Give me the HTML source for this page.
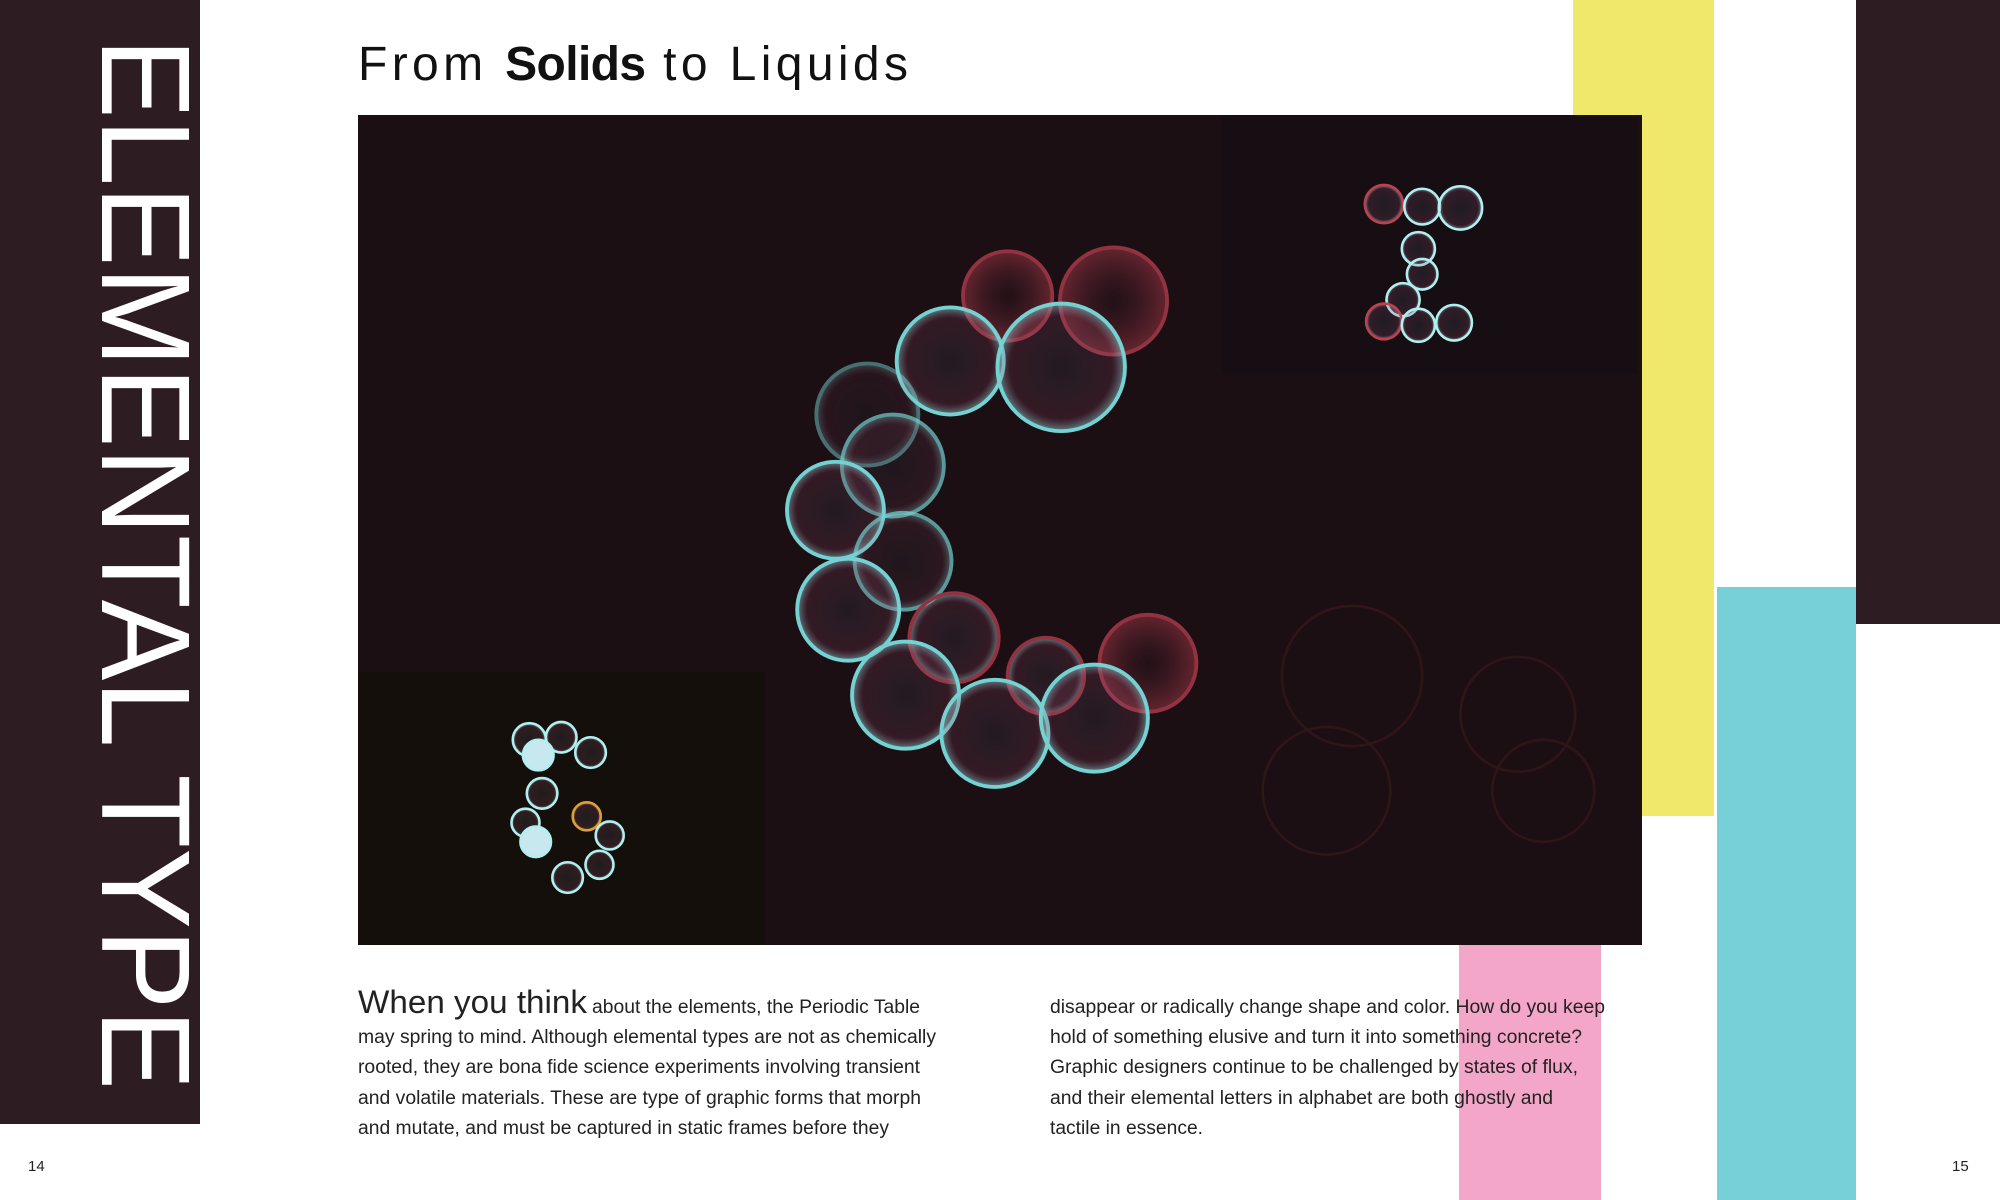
<!DOCTYPE html>
<html><head><meta charset="utf-8"><style>
html,body{margin:0;padding:0;background:#fff;}
svg{display:block;}
text{font-family:"Liberation Sans",sans-serif;}
</style></head><body>
<svg width="2000" height="1200" viewBox="0 0 2000 1200" xmlns="http://www.w3.org/2000/svg">
<defs>
<radialGradient id="bub" cx="50%" cy="50%" r="50%">
<stop offset="0%" stop-color="#6a7a9a" stop-opacity="0.12"/>
<stop offset="80%" stop-color="#a05070" stop-opacity="0.2"/>
<stop offset="100%" stop-color="#90e8e8" stop-opacity="0.6"/>
</radialGradient>
<radialGradient id="bubR" cx="50%" cy="50%" r="50%">
<stop offset="0%" stop-color="#502030" stop-opacity="0.15"/>
<stop offset="100%" stop-color="#c04050" stop-opacity="0.5"/>
</radialGradient>
</defs>
<rect x="0" y="0" width="2000" height="1200" fill="#fff"/>
<rect x="1573" y="0" width="141" height="816" fill="#efe86a"/>
<rect x="1856" y="0" width="144" height="624" fill="#2d1d22"/>
<rect x="1717" y="587" width="139" height="613" fill="#77cfd8"/>
<rect x="1459" y="945" width="142" height="255" fill="#f4a6c9"/>
<rect x="0" y="0" width="200" height="1124" fill="#2d1d22"/>
<text transform="translate(102,38) rotate(90)" x="0" y="0" font-size="126" fill="#fff" textLength="1052" lengthAdjust="spacingAndGlyphs" style="font-weight:300">ELEMENTAL TYPE</text>
<text x="358" y="80" font-size="48" fill="#111" textLength="555" lengthAdjust="spacing" letter-spacing="5">From <tspan font-weight="bold" letter-spacing="0">Solids</tspan> to Liquids</text>

<g>
<rect x="358" y="115" width="1284" height="830" fill="#1c0f14"/>
<rect x="358" y="672" width="407" height="273" fill="#150f0b"/>
<rect x="1221" y="115" width="416" height="259" fill="#160e13"/>
<g transform="scale(1.2755)">
<g fill="none" stroke="#6a2a20" stroke-width="2" opacity="0.25">
<circle cx="1060" cy="530" r="55"/><circle cx="1190" cy="560" r="45"/><circle cx="1040" cy="620" r="50"/><circle cx="1210" cy="620" r="40"/>
</g>
<g stroke="#7fe8e8" stroke-width="3" fill="url(#bub)" opacity="0.9">
<circle cx="873" cy="236" r="42" stroke="#a03848" fill="url(#bubR)"/>
<circle cx="790" cy="232" r="35" stroke="#a03848" fill="url(#bubR)"/>
<circle cx="745" cy="283" r="42"/>
<circle cx="832" cy="288" r="50"/>
<circle cx="680" cy="325" r="40" opacity="0.5"/>
<circle cx="700" cy="365" r="40" opacity="0.7"/>
<circle cx="655" cy="400" r="38"/>
<circle cx="708" cy="440" r="38" opacity="0.7"/>
<circle cx="665" cy="478" r="40"/>
<circle cx="748" cy="500" r="35" stroke="#a03848"/>
<circle cx="710" cy="545" r="42"/>
<circle cx="820" cy="530" r="30" stroke="#a03848"/>
<circle cx="900" cy="520" r="38" stroke="#a03848" fill="url(#bubR)"/>
<circle cx="780" cy="575" r="42"/>
<circle cx="858" cy="563" r="42"/>
</g>
<g stroke="#b0f0f0" stroke-width="2" fill="url(#bub)">
<circle cx="415" cy="580" r="13"/><circle cx="440" cy="578" r="12"/><circle cx="463" cy="590" r="12"/><circle cx="422" cy="592" r="12" fill="#c8e8f0"/>
<circle cx="425" cy="622" r="12"/><circle cx="412" cy="645" r="11"/><circle cx="420" cy="660" r="12" fill="#c8e8f0"/>
<circle cx="460" cy="640" r="11" stroke="#e0a030"/><circle cx="478" cy="655" r="11"/><circle cx="470" cy="678" r="11"/><circle cx="445" cy="688" r="12"/>
<circle cx="1085" cy="160" r="15" stroke="#c04050"/><circle cx="1115" cy="162" r="14"/><circle cx="1145" cy="163" r="17"/><circle cx="1112" cy="195" r="13"/>
<circle cx="1115" cy="215" r="12"/><circle cx="1100" cy="235" r="13"/><circle cx="1085" cy="252" r="14" stroke="#c04050"/><circle cx="1112" cy="255" r="13"/><circle cx="1140" cy="253" r="14"/>
</g>
</g>
</g>

<g font-size="19" fill="#222">
<text x="358" y="1013"><tspan font-size="32" textLength="229" lengthAdjust="spacingAndGlyphs">When you think</tspan></text>
<text x="592" y="1013" textLength="328" lengthAdjust="spacingAndGlyphs">about the elements, the Periodic Table</text>
<text x="358" y="1043" textLength="578" lengthAdjust="spacingAndGlyphs">may spring to mind. Although elemental types are not as chemically</text>
<text x="358" y="1073" textLength="562" lengthAdjust="spacingAndGlyphs">rooted, they are bona fide science experiments involving transient</text>
<text x="358" y="1104" textLength="563" lengthAdjust="spacingAndGlyphs">and volatile materials. These are type of graphic forms that morph</text>
<text x="358" y="1134" textLength="531" lengthAdjust="spacingAndGlyphs">and mutate, and must be captured in static frames before they</text>
</g>
<g font-size="19" fill="#222">
<text x="1050" y="1013" textLength="555" lengthAdjust="spacingAndGlyphs">disappear or radically change shape and color. How do you keep</text>
<text x="1050" y="1043" textLength="532" lengthAdjust="spacingAndGlyphs">hold of something elusive and turn it into something concrete?</text>
<text x="1050" y="1073" textLength="528" lengthAdjust="spacingAndGlyphs">Graphic designers continue to be challenged by states of flux,</text>
<text x="1050" y="1104" textLength="503" lengthAdjust="spacingAndGlyphs">and their elemental letters in alphabet are both ghostly and</text>
<text x="1050" y="1134" textLength="153" lengthAdjust="spacingAndGlyphs">tactile in essence.</text>
</g>
<text x="28" y="1171" font-size="15" fill="#222">14</text>
<text x="1952" y="1171" font-size="15" fill="#222">15</text>
</svg>
</body></html>
